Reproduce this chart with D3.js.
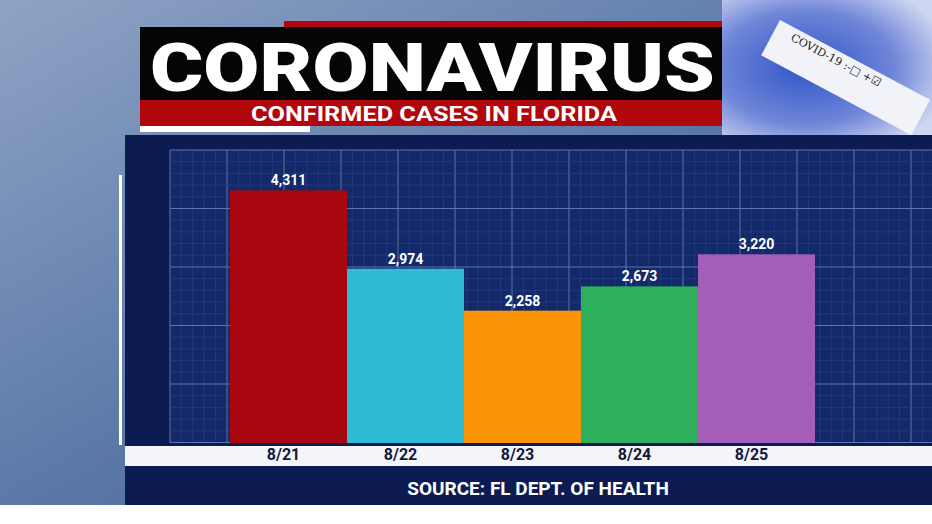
<!DOCTYPE html>
<html><head><meta charset="utf-8">
<script src="https://cdn.jsdelivr.net/npm/d3@7"></script>
<style>body{margin:0;overflow:hidden}svg{display:block}</style>
</head><body><svg width="932" height="524"></svg>
<script>
const dates = ["8/21", "8/22", "8/23", "8/24", "8/25"];
const cases = [4311, 2974, 2258, 2673, 3220];
const colors = ["#a8070f", "#2fbad6", "#fa9306", "#2daf5c", "#a55eb8"];

const svg = d3.select("svg");
const defs = svg.append("defs");
const bg = defs.append("linearGradient").attr("id", "bg").attr("x1", 0).attr("y1", 0).attr("x2", 1).attr("y2", 1);
bg.append("stop").attr("offset", 0).attr("stop-color", "#8fa3c4");
bg.append("stop").attr("offset", 0.5).attr("stop-color", "#5a77a8");
bg.append("stop").attr("offset", 1).attr("stop-color", "#3f5a8e");
const img = defs.append("radialGradient").attr("id", "img").attr("cx", 0.4).attr("cy", 0.5).attr("r", 0.7);
img.append("stop").attr("offset", 0).attr("stop-color", "#2f55c8");
img.append("stop").attr("offset", 0.6).attr("stop-color", "#6f86d8");
img.append("stop").attr("offset", 1).attr("stop-color", "#cfd6f2");

svg.append("rect").attr("width", 932).attr("height", 524).attr("fill", "url(#bg)");
svg.append("rect").attr("x", 722).attr("y", 0).attr("width", 210).attr("height", 135).attr("fill", "url(#img)");
svg.append("rect").attr("x", 780).attr("y", 20).attr("width", 170).attr("height", 40).attr("fill", "#f2f3f8")
    .attr("transform", "rotate(28 780 20)");
svg.append("text").attr("x", 790).attr("y", 40).attr("transform", "rotate(28 790 40)")
    .attr("font-family", "DejaVu Serif").attr("font-size", 11).attr("fill", "#222").text("COVID-19 :-\u25a1 +\u2611");
svg.append("rect").attr("x", 0).attr("y", 505).attr("width", 932).attr("height", 19).attr("fill", "#fff");

// navy panel
svg.append("rect").attr("x", 125).attr("y", 135).attr("width", 807).attr("height", 370).attr("fill", "#0c1c52");

const plot = {left: 170, right: 932, top: 150, bottom: 443};
const x = d3.scaleBand().domain(dates).range([230, 815]).padding(0);
const y = d3.scaleLinear().domain([0, 5000]).range([plot.bottom, plot.top]);

// grid
const grid = svg.append("g");
grid.append("rect").attr("x", plot.left).attr("y", plot.top).attr("width", plot.right - plot.left)
    .attr("height", plot.bottom - plot.top).attr("fill", "#13296a");
d3.range(plot.left, plot.right, 11.4).forEach((gx, i) => {
    grid.append("line").attr("x1", gx).attr("x2", gx).attr("y1", plot.top).attr("y2", plot.bottom)
        .attr("stroke", i % 5 === 0 ? "#5e73aa" : "#2c4384").attr("stroke-width", i % 5 === 0 ? 1 : 0.6);
});
d3.range(plot.top, plot.bottom, 11.7).forEach((gy, i) => {
    grid.append("line").attr("x1", plot.left).attr("x2", plot.right).attr("y1", gy).attr("y2", gy)
        .attr("stroke", i % 5 === 0 ? "#5e73aa" : "#2c4384").attr("stroke-width", i % 5 === 0 ? 1 : 0.6);
});

svg.append("rect").attr("x", 119).attr("y", 175).attr("width", 3).attr("height", 270).attr("fill", "#fff");

svg.append("g").selectAll("rect").data(cases).join("rect")
    .attr("x", (d, i) => x(dates[i])).attr("width", x.bandwidth())
    .attr("y", d => y(d)).attr("height", d => y(0) - y(d))
    .attr("fill", (d, i) => colors[i]);

svg.append("g").selectAll("text").data(cases).join("text")
    .attr("x", (d, i) => x(dates[i]) + x.bandwidth() / 2).attr("y", d => y(d) - 5)
    .attr("text-anchor", "middle").attr("fill", "#fff")
    .attr("font-family", "Roboto").attr("font-weight", "bold").attr("font-size", 14)
    .text(d3.format(","));

// x label strip
svg.append("rect").attr("x", 125).attr("y", 446).attr("width", 807).attr("height", 20).attr("fill", "#f4f5f8");
const xAxis = svg.append("g").attr("transform", "translate(-5,446)")
    .call(d3.axisBottom(x).tickSize(0).tickPadding(3));
xAxis.select(".domain").remove();
xAxis.selectAll("text").attr("font-family", "Roboto").attr("font-weight", "bold")
    .attr("font-size", 16).attr("fill", "#111a3c");

svg.append("text").attr("x", 538).attr("y", 495).attr("text-anchor", "middle").attr("fill", "#fff")
    .attr("font-family", "Roboto").attr("font-weight", "bold").attr("font-size", 19)
    .text("SOURCE: FL DEPT. OF HEALTH");

// title block
svg.append("rect").attr("x", 284).attr("y", 21).attr("width", 438).attr("height", 7).attr("fill", "#b0060c");
svg.append("rect").attr("x", 140).attr("y", 27).attr("width", 582).attr("height", 74).attr("fill", "#050505");
svg.append("rect").attr("x", 140).attr("y", 100).attr("width", 582).attr("height", 26).attr("fill", "#b0060c");
svg.append("rect").attr("x", 140).attr("y", 126).attr("width", 170).attr("height", 6).attr("fill", "#fff");
svg.append("text").attr("x", 150).attr("y", 91).attr("textLength", 565).attr("lengthAdjust", "spacingAndGlyphs")
    .attr("fill", "#fff").attr("font-family", "Roboto").attr("font-weight", 900).attr("font-size", 66)
    .text("CORONAVIRUS");
svg.append("text").attr("x", 251).attr("y", 121).attr("textLength", 366).attr("lengthAdjust", "spacingAndGlyphs")
    .attr("fill", "#fff").attr("font-family", "Roboto").attr("font-weight", "bold").attr("font-size", 21)
    .text("CONFIRMED CASES IN FLORIDA");
</script></body></html>
